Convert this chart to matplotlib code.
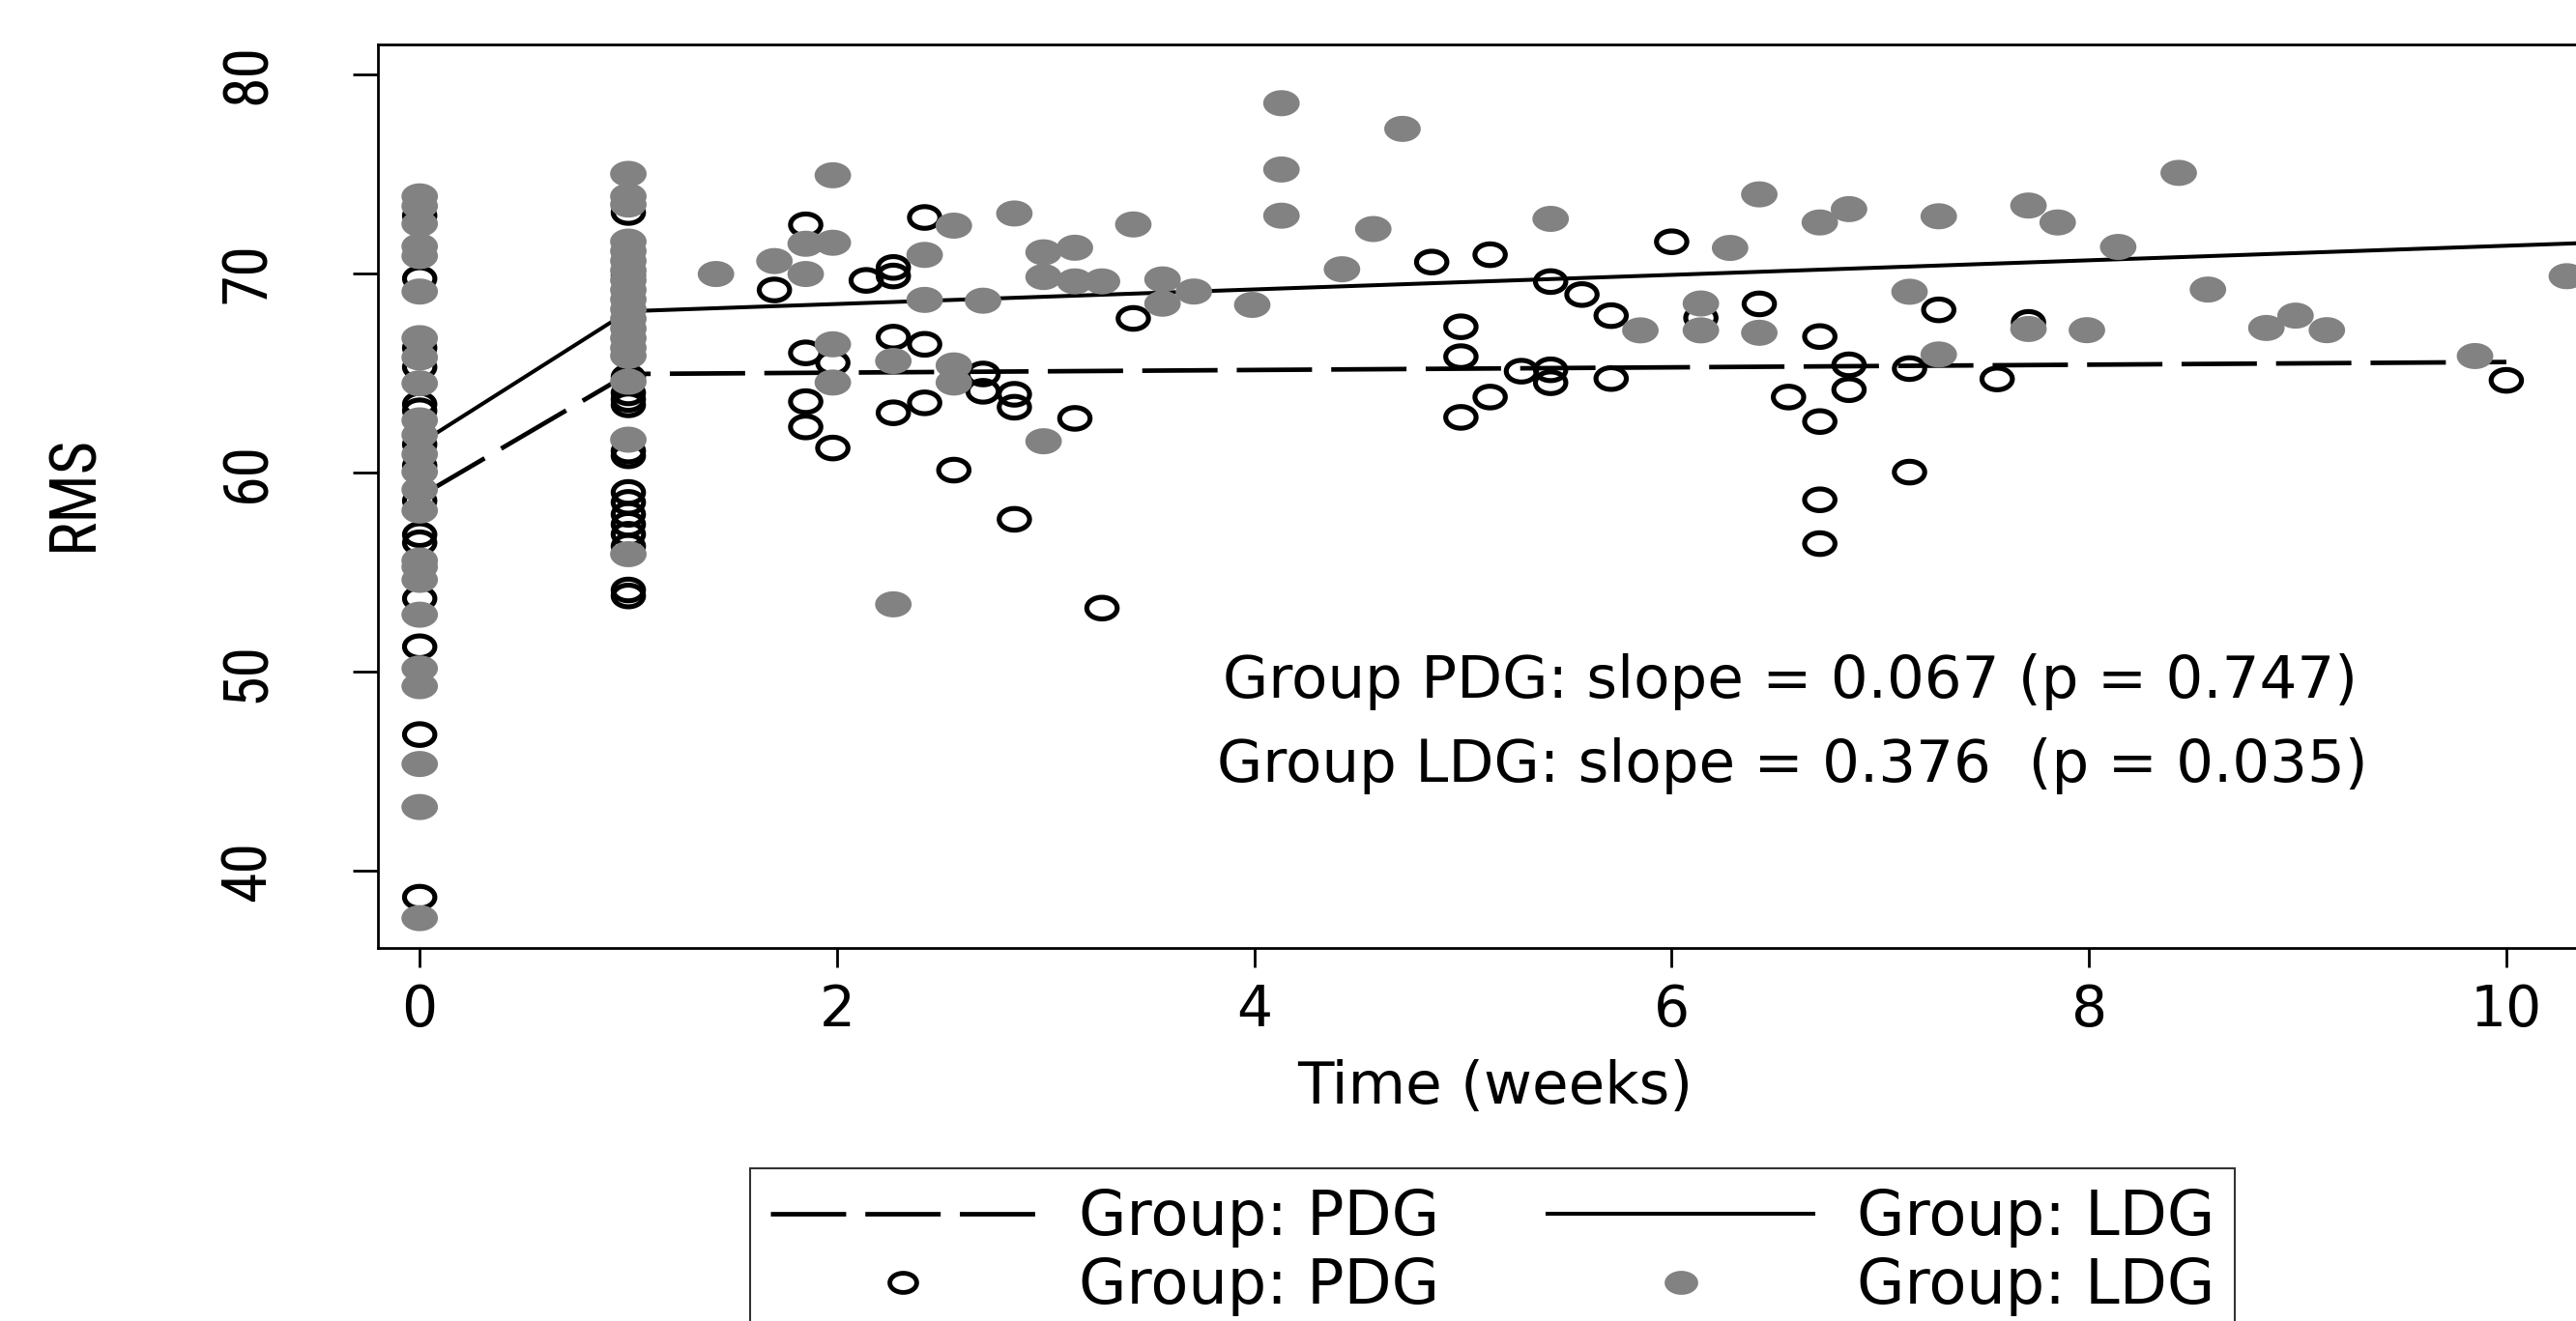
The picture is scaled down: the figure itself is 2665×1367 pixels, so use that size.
import numpy as np
import matplotlib
matplotlib.use("Agg")
import matplotlib.pyplot as plt
from matplotlib.path import Path
from matplotlib.lines import Line2D
from matplotlib import font_manager

# ---------------- data ----------------
# baseline (week 0) and week 1 measurements
pdg_week0_rms = [72.9, 69.74, 66.26, 65.29, 63.43, 63.1, 61.41, 60.35, 58.58,
                 56.88, 56.47, 53.67, 51.25, 46.84, 38.67]
ldg_week0_rms = [73.87, 73.38, 72.49, 71.36, 70.87, 69.09, 66.75, 65.78, 64.48,
                 62.62, 61.89, 60.92, 60.03, 59.14, 58.09, 55.58, 55.26, 54.61,
                 52.86, 50.16, 49.27, 45.36, 43.2, 37.62]
pdg_week1_rms = [73.06, 69.9, 64.8, 64.0, 63.67, 63.4, 61.08, 60.84, 59.0, 58.5,
                 57.9, 57.4, 56.9, 56.3, 54.1, 53.8]
ldg_week1_rms = [75.0, 73.87, 73.46, 71.6, 71.12, 70.63, 70.15, 69.66, 69.17,
                 68.69, 68.2, 67.72, 67.23, 66.75, 66.26, 65.86, 64.56, 61.65, 55.9]

# later follow-up visits
pdg_later_weeks = [1.70, 1.85, 1.85, 1.85, 1.85, 1.98, 1.98, 2.14, 2.27, 2.27,
                   2.27, 2.27, 2.42, 2.42, 2.42, 2.56, 2.70, 2.70, 2.85, 2.85,
                   2.85, 3.14, 3.27, 3.42, 4.85, 4.99, 4.99, 4.99, 5.13, 5.13,
                   5.28, 5.42, 5.42, 5.42, 5.57, 5.71, 5.71, 6.00, 6.14, 6.42,
                   6.56, 6.71, 6.71, 6.71, 6.71, 6.85, 6.85, 7.14, 7.14, 7.28,
                   7.56, 7.71, 10.0]
pdg_later_rms = [69.17, 72.44, 66.01, 63.56, 62.29, 65.51, 61.23, 69.65, 70.30, 69.87,
                 66.8, 63.0, 72.81, 66.44, 63.5, 60.12, 64.95, 64.08, 63.93, 63.28,
                 57.65, 62.72, 53.19, 67.74, 70.57, 67.32, 65.82, 62.77, 70.94, 63.79,
                 65.09, 69.59, 65.16, 64.51, 68.94, 67.88, 64.72, 71.59, 67.77, 68.47,
                 63.79, 66.83, 62.56, 58.63, 56.43, 65.41, 64.16, 65.22, 60.02, 68.17,
                 64.7, 67.54, 64.63]

ldg_later_weeks = [1.42, 1.70, 1.85, 1.85, 1.98, 1.98, 1.98, 1.98, 2.27, 2.27,
                   2.42, 2.42, 2.56, 2.56, 2.56, 2.70, 2.85, 2.99, 2.99, 2.99,
                   3.14, 3.14, 3.27, 3.42, 3.56, 3.56, 3.71, 3.99, 4.13, 4.13,
                   4.13, 4.42, 4.57, 4.71, 5.42, 5.85, 6.14, 6.14, 6.28, 6.42,
                   6.42, 6.71, 6.85, 7.14, 7.28, 7.28, 7.71, 7.71, 7.85, 7.99,
                   8.14, 8.43, 8.57, 8.85, 8.99, 9.14, 9.85, 10.29]
ldg_later_rms = [69.97, 70.62, 71.49, 69.97, 74.93, 71.54, 66.44, 64.52, 65.6, 53.38,
                 70.93, 68.67, 72.4, 65.38, 64.52, 68.63, 73.01, 71.06, 69.82, 61.57,
                 71.29, 69.6, 69.6, 72.46, 69.7, 68.48, 69.09, 68.42, 78.55, 75.22,
                 72.9, 70.21, 72.23, 77.26, 72.74, 67.14, 68.49, 67.14, 71.28, 73.97,
                 67.02, 72.56, 73.23, 69.08, 72.87, 65.93, 73.41, 67.21, 72.56, 67.15,
                 71.33, 75.05, 69.19, 67.26, 67.88, 67.15, 65.85, 69.86]

# fitted lines (piecewise: week 0 -> week 1, then linear slope)
fit_weeks_pdg = [0, 1, 10]
fit_rms_pdg = [58.8, 64.95, 65.55]
fit_weeks_ldg = [0, 1, 10.6]
fit_rms_ldg = [61.45, 68.1, 71.61]

xtick_values = [0, 2, 4, 6, 8, 10]
xtick_labels = ["0", "2", "4", "6", "8", "10"]
ytick_values = [40, 50, 60, 70, 80]
ytick_labels = ["40", "50", "60", "70", "80"]

legend_labels = ["Group: PDG", "Group: PDG", "Group: LDG", "Group: LDG"]
note_pdg = "Group PDG: slope = 0.067 (p = 0.747)"
note_ldg = "Group LDG: slope = 0.376  (p = 0.035)"

# -------------- assemble --------------
pdg_x = [0] * len(pdg_week0_rms) + [1] * len(pdg_week1_rms) + pdg_later_weeks
pdg_y = pdg_week0_rms + pdg_week1_rms + pdg_later_rms
ldg_x = [0] * len(ldg_week0_rms) + [1] * len(ldg_week1_rms) + ldg_later_weeks
ldg_y = ldg_week0_rms + ldg_week1_rms + ldg_later_rms

# -------------- fonts ---------------
H_FONT = "DejaVu Sans"
entries = font_manager.fontManager.ttflist


def has_font(name, stretch=None):
    return any(f.name == name and (stretch is None or f.stretch == stretch)
               for f in entries)


rot_candidates = [("Liberation Sans Narrow", "normal", None),
                  ("Roboto Condensed", "normal", None),
                  ("Open Sans Condensed", "normal", None),
                  ("Noto Sans Condensed", "normal", None),
                  ("DejaVu Sans Condensed", "normal", None),
                  ("DejaVu Sans", "condensed", "condensed"),
                  ("Noto Sans", "condensed", "condensed"),
                  ("Open Sans", "condensed", "condensed"),
                  ("Roboto", "condensed", "condensed")]
ROT_FONT, ROT_STRETCH = "Liberation Sans", "normal"
for name, stretch, req in rot_candidates:
    if has_font(name, req):
        ROT_FONT, ROT_STRETCH = name, stretch
        break

GRAY = "#828282"

# elliptical marker (Stata output is horizontally stretched)
t = np.linspace(0, 2 * np.pi, 73)
ellipse = Path(np.column_stack([1.4 * np.cos(t), np.sin(t)]), closed=True)

W, H = 2665, 1367
fig = plt.figure(figsize=(W / 100, H / 100), dpi=100)
fig.patch.set_facecolor("white")
renderer = fig.canvas.get_renderer()


def fit_size(text, target_px, base=40.0):
    tt = fig.text(0, 0, text, fontsize=base, family=ROT_FONT,
                  fontstretch=ROT_STRETCH)
    w = tt.get_window_extent(renderer).width
    tt.remove()
    return base * target_px / w


ytick_size = fit_size("80", 63)
ylab_size = fit_size("RMS", 120)
em_px = ytick_size * 100 / 72

left_px, right_px, top_px, bottom_px = 391, 2703, 46, 981
ax = fig.add_axes([left_px / W, (H - bottom_px) / H,
                   (right_px - left_px) / W, (bottom_px - top_px) / H])

ax.plot(fit_weeks_pdg, fit_rms_pdg, color="black", lw=3.4,
        linestyle=(0, (16.5, 4.2)), zorder=2, dash_capstyle="butt")
ax.plot(fit_weeks_ldg, fit_rms_ldg, color="black", lw=2.9, zorder=2)

ax.scatter(pdg_x, pdg_y, marker=ellipse, s=22.6 ** 2, facecolors="none",
           edgecolors="black", linewidths=3.7, zorder=3)
ax.scatter(ldg_x, ldg_y, marker=ellipse, s=27.2 ** 2, facecolors=GRAY,
           edgecolors="none", linewidths=0, zorder=4)

ax.set_xlim(-0.2, 10.51)
ax.set_ylim(36.12, 81.5)

ax.set_xticks(xtick_values, labels=xtick_labels)
ax.set_yticks(ytick_values, labels=ytick_labels)
ytick_len_px = 26
ypad_px = (left_px - ytick_len_px) - (250 + 0.1 * em_px)
ax.tick_params(axis="x", length=14.4, width=2, pad=11.5, labelsize=42,
               direction="out", labelfontfamily=H_FONT)
ax.tick_params(axis="y", length=ytick_len_px * 0.72, width=2,
               pad=ypad_px * 0.72, labelsize=ytick_size, direction="out",
               labelrotation=90, labelfontfamily=ROT_FONT)
for lab in ax.get_yticklabels():
    lab.set_va("center")
    lab.set_ha("center")
    lab.set_fontstretch(ROT_STRETCH)

for side in ["left", "top", "bottom"]:
    ax.spines[side].set_linewidth(2.0)
ax.spines["right"].set_visible(False)

ax.set_xlabel("Time (weeks)", fontsize=44, family=H_FONT)
ax.xaxis.label.set_va("center")
ax.xaxis.set_label_coords(0.5, -0.155)
ax.set_ylabel("RMS", fontsize=ylab_size, family=ROT_FONT,
              fontstretch=ROT_STRETCH)
ax.yaxis.label.set_va("center")
ax.yaxis.set_label_coords((71 + 0.1 * ylab_size * 100 / 72 - left_px) / (right_px - left_px),
                          (bottom_px - 510) / (bottom_px - top_px))

ax.text(3.848, 49.5, note_pdg, fontsize=44, family=H_FONT, ha="left",
        va="center", zorder=6)
ax.text(3.82, 45.25, note_ldg, fontsize=44, family=H_FONT, ha="left",
        va="center", zorder=6)

# legend
h_dash = Line2D([], [], color="black", lw=3.4, linestyle=(0, (16.5, 4.2)),
                dash_capstyle="butt")
h_solid = Line2D([], [], color="black", lw=2.9)
h_ring = Line2D([], [], linestyle="none", marker=ellipse, markersize=20,
                markerfacecolor="none", markeredgecolor="black",
                markeredgewidth=3.5)
h_dot = Line2D([], [], linestyle="none", marker=ellipse, markersize=25,
               markerfacecolor=GRAY, markeredgecolor="none")
leg = fig.legend([h_dash, h_ring, h_solid, h_dot], legend_labels, ncol=2,
                 loc="upper center", bbox_to_anchor=(1544 / W, 1 - 1209 / H),
                 frameon=True, fancybox=False, edgecolor="black",
                 prop={"family": H_FONT, "size": 46}, handlelength=4.3,
                 handletextpad=0.7, columnspacing=1.75, borderpad=0.32,
                 labelspacing=0.14, borderaxespad=0)
leg.get_frame().set_linewidth(1.5)

fig.savefig("out.png", dpi=100, facecolor="white")
